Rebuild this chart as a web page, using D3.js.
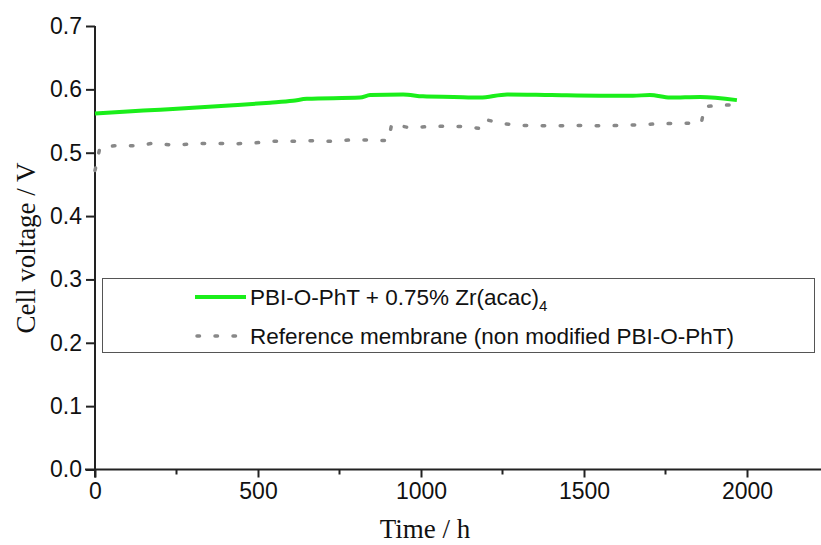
<!DOCTYPE html>
<html>
<head>
<meta charset="utf-8">
<script src="https://cdn.jsdelivr.net/npm/d3@7"></script>
<style>
  body { margin: 0; background: #fff; }
  .tick text { font-family: "Liberation Sans", Arial, sans-serif; }
</style>
</head>
<body>
<div id="chart"></div>
<script>
// modified membrane, PBI-O-PhT + 0.75% Zr(acac)4
var zrTime = [0, 100, 200, 300, 424, 537, 607, 650, 813, 844, 945, 1006, 1100, 1181, 1264, 1400, 1550, 1650, 1702, 1764, 1856, 1969];
var zrVolt = [0.562, 0.565, 0.568, 0.571, 0.575, 0.579, 0.582, 0.585, 0.587, 0.591, 0.592, 0.589, 0.588, 0.587, 0.592, 0.591, 0.590, 0.590, 0.591, 0.587, 0.588, 0.583];

// reference membrane (non modified)
var refTime = [0, 15, 60, 120, 180, 240, 300, 360, 420, 480, 540, 600, 660, 720, 780, 840, 900, 910, 960, 1020, 1080, 1140, 1185, 1200, 1250, 1310, 1400, 1500, 1560, 1620, 1700, 1760, 1860, 1870, 1960];
var refVolt = [0.472, 0.508, 0.511, 0.511, 0.515, 0.512, 0.514, 0.515, 0.514, 0.515, 0.518, 0.518, 0.519, 0.518, 0.520, 0.520, 0.519, 0.545, 0.540, 0.541, 0.542, 0.541, 0.538, 0.552, 0.546, 0.543, 0.5425, 0.543, 0.5425, 0.543, 0.545, 0.546, 0.547, 0.573, 0.576];

var xTicks = [0, 500, 1000, 1500, 2000];
var xMinor = [250, 750, 1250, 1750, 2250];
var yTicks = [0, 0.1, 0.2, 0.3, 0.4, 0.5, 0.6, 0.7];

var legendLabels = ["PBI-O-PhT + 0.75% Zr(acac)", "Reference membrane (non modified PBI-O-PhT)"];

var width = 821, height = 545;
var svg = d3.select("#chart").append("svg")
  .attr("width", width).attr("height", height);

var x = d3.scaleLinear().domain([0, 2250]).range([95, 828.5]);
var y = d3.scaleLinear().domain([0, 0.7]).range([469.5, 26]);

var zrData = zrTime.map(function (t, i) { return { t: t, v: zrVolt[i] }; });
var refData = refTime.map(function (t, i) { return { t: t, v: refVolt[i] }; });

// axes
var gx = svg.append("g").attr("transform", "translate(0," + y(0) + ")");
gx.call(d3.axisBottom(x).tickValues(xTicks).tickSize(8).tickPadding(5).tickFormat(d3.format("d")));
gx.select(".domain").remove();
gx.append("line").attr("x1", x(0) - 10).attr("x2", width).attr("stroke", "#222").attr("stroke-width", 2);
gx.selectAll(".tick line").attr("stroke", "#222").attr("stroke-width", 2);
gx.selectAll(".tick text").attr("font-size", 23).attr("fill", "#111");
gx.selectAll(".minor").data(xMinor).enter().append("line")
  .attr("x1", function (d) { return x(d); }).attr("x2", function (d) { return x(d); })
  .attr("y1", 0).attr("y2", 5).attr("stroke", "#222").attr("stroke-width", 2);

var gy = svg.append("g").attr("transform", "translate(" + x(0) + ",0)");
gy.call(d3.axisLeft(y).tickValues(yTicks).tickSize(9).tickPadding(4).tickFormat(d3.format(".1f")));
gy.select(".domain").remove();
gy.append("line").attr("y1", y(0.7)).attr("y2", y(0) + 8).attr("stroke", "#222").attr("stroke-width", 2);
gy.selectAll(".tick line").attr("stroke", "#222").attr("stroke-width", 2);
gy.selectAll(".tick text").attr("font-size", 23).attr("fill", "#111");

// lines
var line = d3.line()
  .x(function (d) { return x(d.t); })
  .y(function (d) { return y(d.v); });

svg.append("path").datum(refData)
  .attr("d", line)
  .attr("fill", "none")
  .attr("stroke", "#888")
  .attr("stroke-width", 3.5)
  .attr("stroke-linecap", "round")
  .attr("stroke-dasharray", "2.5,15.5");

svg.append("path").datum(zrData)
  .attr("d", line.curve(d3.curveMonotoneX))
  .attr("fill", "none")
  .attr("stroke", "#1aee1a")
  .attr("stroke-width", 4);

// legend
var lg = svg.append("g");
lg.append("rect")
  .attr("x", 102.5).attr("y", 278.5).attr("width", 712).attr("height", 74)
  .attr("fill", "#fff").attr("stroke", "#555").attr("stroke-width", 1);
lg.append("line").attr("x1", 195).attr("x2", 246).attr("y1", 297).attr("y2", 297)
  .attr("stroke", "#1aee1a").attr("stroke-width", 4);
lg.append("line").attr("x1", 197).attr("x2", 246).attr("y1", 336).attr("y2", 336)
  .attr("stroke", "#888").attr("stroke-width", 3.5).attr("stroke-linecap", "round")
  .attr("stroke-dasharray", "2.5,15.5");

var t1 = lg.append("text").attr("x", 250).attr("y", 305)
  .attr("font-family", "Liberation Sans, Arial, sans-serif").attr("font-size", 22.5).attr("fill", "#111")
  .text(legendLabels[0]);
t1.append("tspan").attr("dy", 6).attr("font-size", 15).text("4");
lg.append("text").attr("x", 250).attr("y", 344)
  .attr("font-family", "Liberation Sans, Arial, sans-serif").attr("font-size", 22.5).attr("fill", "#111")
  .text(legendLabels[1]);

// axis titles
svg.append("text")
  .attr("x", 425).attr("y", 538)
  .attr("text-anchor", "middle")
  .attr("font-family", "Liberation Serif, Times New Roman, serif")
  .attr("font-size", 27).attr("fill", "#111")
  .text("Time / h");
svg.append("text")
  .attr("transform", "translate(35,248) rotate(-90)")
  .attr("text-anchor", "middle")
  .attr("font-family", "Liberation Serif, Times New Roman, serif")
  .attr("font-size", 27).attr("fill", "#111")
  .text("Cell voltage / V");
</script>
</body>
</html>
